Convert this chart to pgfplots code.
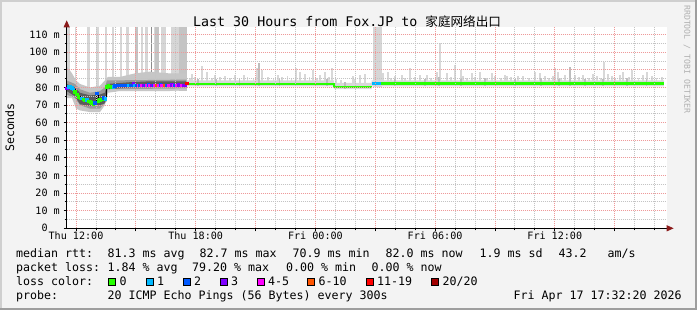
\documentclass[border=0pt]{standalone}
\usepackage{pgfplots}
\pgfplotsset{compat=1.18}
\usepackage{pgfplotstable}
\usepackage{fontspec}
\setmainfont{DejaVu Sans Mono}
\setmonofont{DejaVu Sans Mono}
\newfontfamily\cjk{Noto Sans CJK SC}
\usetikzlibrary{arrows.meta}

\definecolor{bg}{HTML}{F3F3F3}
\definecolor{shadea}{HTML}{CFCFCF}
\definecolor{shadeb}{HTML}{9E9E9E}
\definecolor{mgrid}{HTML}{EE9A9A}
\definecolor{mingrid}{HTML}{C4C4C4}
\definecolor{arrowc}{HTML}{8B1A1A}
\definecolor{wmark}{HTML}{B0B0B0}
\definecolor{l0}{HTML}{26FF00}
\definecolor{l1}{HTML}{00B8FF}
\definecolor{l2}{HTML}{0059FF}
\definecolor{l3}{HTML}{7E00FF}
\definecolor{l4}{HTML}{FF00FF}
\definecolor{l6}{HTML}{FF5500}
\definecolor{l11}{HTML}{FF0000}
\definecolor{l20}{HTML}{A10000}
\definecolor{smokeT}{HTML}{D6D6D6}
\definecolor{smokeT2}{HTML}{C4C4C4}
\definecolor{smokeO}{HTML}{C6C6C6}
\definecolor{smokeM}{HTML}{9A9A9A}
\definecolor{smokeD}{HTML}{5C5C5C}
\definecolor{smokeB}{HTML}{D8D8D8}
\definecolor{smokeS}{HTML}{BDBDBD}

% early median: hours from Thu 12:00, rtt in ms, loss class
\pgfplotstableread{
x y c
-0.466 79.5 c3
-0.386 80.3 c1
-0.301 80.5 c1
-0.216 80.0 c1
-0.135 79.0 c1
-0.050 77.5 c0
0.035 76.1 c0
0.115 74.8 c0
0.201 73.9 c0
0.286 73.9 c1
0.366 73.3 c0
0.451 73.0 c0
0.536 72.9 c1
0.617 72.2 c0
0.702 71.9 c0
0.787 71.4 c0
0.867 70.9 c0
0.952 71.2 c2
1.038 76.7 c2
1.118 72.5 c0
1.203 72.9 c0
1.288 73.3 c0
1.368 74.2 c2
1.454 73.8 c1
1.539 80.5 c0
1.619 81.0 c0
1.704 80.8 c0
1.789 80.5 c0
1.870 80.6 c1
1.955 81.0 c2
2.040 81.3 c2
2.120 81.3 c2
2.206 81.3 c2
2.291 81.3 c2
2.371 81.4 c2
2.456 81.4 c2
2.541 81.3 c2
2.622 81.3 c1
2.707 81.4 c2
2.792 81.3 c2
2.872 82.4 c3
2.957 81.4 c1
3.043 81.2 c2
3.123 81.4 c4
3.208 81.2 c2
3.293 81.2 c4
3.373 81.4 c3
3.459 81.2 c2
3.544 81.2 c4
3.624 81.6 c2
3.709 81.2 c4
3.794 81.4 c3
3.875 81.2 c2
3.960 81.4 c4
4.045 81.2 c6
4.125 81.4 c4
4.211 81.6 c2
4.296 81.2 c4
4.376 81.4 c4
4.461 81.4 c6
4.546 81.2 c2
4.627 81.4 c4
4.712 81.3 c4
4.797 81.6 c3
4.877 81.4 c4
4.962 81.2 c2
5.048 81.4 c4
5.128 81.6 c3
5.213 81.3 c3
5.298 81.2 c4
5.378 81.3 c3
5.464 81.3 c3
5.549 82.4 c11
}\medianearly

% tall smoke bars: x lo hi
\pgfplotstableread{
x lo hi
-0.426 76 120
-0.341 76 120
-0.025 74 120
0.591 68 120
0.652 68 120
1.033 68 120
1.113 68 120
1.504 72 120
1.870 78 120
2.241 78 120
2.551 78 120
2.622 78 120
3.293 78 120
3.524 78 120
3.574 78 120
3.935 78 120
4.311 78 120
4.391 78 120
4.476 78 120
4.812 78 120
4.897 78 120
4.972 78 120
5.053 78 120
5.133 78 120
14.937 80 120
15.020 80 120
15.100 80 120
15.190 80 120
15.270 80 120
}\talltable

\pgfplotstableread{
x lo hi
2.982 78 120
3.058 78 120
4.015 78 120
4.100 78 120
5.213 78 120
5.293 78 120
5.373 78 120
5.454 78 120
5.514 78 120
}\talltabletwo

% later smoke spikes: x lo hi
\pgfplotstableread{
x lo hi
5.700 81 85.5
5.815 81 87.5
5.965 81 86.0
6.316 81 92.0
6.566 81 89.0
6.800 81 85.5
6.967 81 87.0
7.200 81 86.0
7.469 81 86.5
7.700 81 85.5
7.970 81 87.0
8.421 81 87.0
8.600 81 86.0
8.900 81 85.5
9.073 81 91.0
9.323 81 90.0
9.624 81 86.0
9.900 81 85.5
10.125 81 87.0
10.326 81 86.0
10.600 81 86.5
10.800 81 85.5
11.028 81 91.0
11.228 81 89.0
11.479 81 87.5
11.700 81 86.0
11.880 81 90.0
12.100 81 85.5
12.231 81 87.0
12.481 81 89.0
12.700 81 86.0
12.832 81 91.0
13.033 79 85.0
13.300 79 84.5
13.885 79 86.5
14.000 79 85.0
14.236 79 87.0
14.486 79 87.5
15.388 81 88.0
15.639 81 89.0
15.800 81 85.5
15.990 81 86.5
16.341 81 87.0
16.500 81 85.5
16.742 81 91.0
17.000 81 86.0
17.243 81 87.0
17.594 81 87.0
17.800 81 85.5
18.095 81 89.0
18.246 81 105.0
18.596 81 88.0
18.800 81 86.0
18.997 81 93.0
19.298 81 90.0
19.398 81 86.5
19.600 81 85.5
19.850 81 88.0
20.000 81 86.0
20.251 81 89.0
20.600 81 85.5
20.852 81 88.0
21.003 81 86.5
21.300 81 85.5
21.504 81 87.0
21.604 81 86.5
21.800 81 86.0
22.155 81 86.5
22.406 81 86.5
22.700 81 85.5
23.008 81 89.0
23.258 81 88.0
23.509 81 86.5
23.700 81 85.5
23.910 81 86.5
24.010 81 91.3
24.160 81 89.0
24.300 81 85.5
24.511 81 87.0
25.013 81 87.0
25.200 81 86.0
25.414 81 87.0
25.700 81 85.5
25.915 81 87.5
26.115 81 86.5
26.300 81 85.5
26.466 81 94.3
26.667 81 87.5
26.867 81 86.5
27.000 81 85.5
27.268 81 87.0
27.419 81 89.0
27.700 81 86.0
27.870 81 90.0
28.200 81 85.5
28.421 81 87.0
28.622 81 89.0
28.872 81 86.5
29.100 81 85.5
29.373 81 86.0
}\spikes

\pgfplotstableread{
x lo hi
6.10 81 85.0
7.00 81 84.6
8.20 81 85.5
9.173 81 93.8
10.20 81 84.8
11.00 81 85.6
12.60 81 84.7
13.50 79 83.2
16.00 81 85.0
17.50 81 84.6
18.20 81 85.8
19.30 81 84.9
20.50 81 85.2
22.00 81 84.7
23.30 81 85.4
24.20 81 84.8
24.762 81 91.8
25.50 81 85.1
26.40 81 84.9
27.60 81 85.3
28.60 81 84.7
}\spikesdark

\pgfplotsset{smokebars/.style={draw=none, mark=none, forget plot,
  error bars/.cd, y dir=plus, y explicit, error mark=none,
  error bar style={line width=1.8pt, draw=#1, solid}}}

\begin{document}
\begin{tikzpicture}[x=1pt,y=1pt]
\fill[bg] (0,0) rectangle (697,310);
\fill[shadea] (0,308) rectangle (697,310);
\fill[shadea] (0,0) rectangle (2,310);
\fill[shadeb] (0,0) rectangle (697,2);
\fill[shadeb] (695,0) rectangle (697,310);

\begin{axis}[
  at={(66.7pt,81.7pt)}, anchor=south west,
  width=600pt, height=201pt, scale only axis,
  xmin=-0.466, xmax=29.61, ymin=0, ymax=114.2,
  axis background/.style={fill=white},
  axis on top,
  axis x line*=bottom, axis y line*=left,
  axis line style={line width=0.9pt, black},
  x axis line style={-{Triangle[length=7pt,width=6pt,color=arrowc]}, shorten >=-7pt},
  y axis line style={-{Triangle[length=7pt,width=6pt,color=arrowc]}, shorten >=-7pt},
  xtick={0,3,...,27},
  xticklabels={Thu 12:00,,Thu 18:00,,Fri 00:00,,Fri 06:00,,Fri 12:00,},
  minor xtick={1,2,4,5,7,8,10,11,13,14,16,17,19,20,22,23,25,26,28,29},
  ytick={0,10,...,110},
  yticklabels={{0\hphantom{mm}},{10 m},{20 m},{30 m},{40 m},{50 m},{60 m},{70 m},{80 m},{90 m},{100 m},{110 m}},
  minor ytick={5,15,...,105},
  grid=both,
  major grid style={mgrid, dash pattern=on 1pt off 1pt, line width=0.8pt},
  minor grid style={mingrid, dash pattern=on 1pt off 1pt, line width=0.8pt},
  tick align=outside,
  major tick length=3pt, minor tick length=2pt,
  tick style={black, line width=0.8pt},
  ticklabel style={font=\fontsize{10.1}{12}\selectfont, inner sep=0pt},
  yticklabel style={anchor=east, xshift=-3.7pt},
  xticklabel style={anchor=base, yshift=-8.7pt},
  clip=true,
]
% tall smoke bars
\addplot[smokebars=smokeT] table[x=x, y=lo, y error plus expr=\thisrow{hi}-\thisrow{lo}] {\talltable};
\addplot[smokebars=smokeT2] table[x=x, y=lo, y error plus expr=\thisrow{hi}-\thisrow{lo}] {\talltabletwo};
\addplot[black!45, line width=1pt, forget plot] coordinates {(3.794,78) (3.794,120)};
% early smoke bands
\addplot[fill=smokeO, draw=none, forget plot] coordinates {
(-0.466,92) (-0.2,88) (0,84) (0.2,82) (0.7,80) (1.2,81) (1.45,84) (1.6,86) (2.2,86) (2.95,88) (3.7,89) (4.7,88) (5.55,88)
(5.55,79) (4.7,78) (3.7,78) (2.95,78) (2.2,78) (1.6,77) (1.45,70) (1.2,66) (0.7,66) (0.2,67) (0,68) (-0.2,74) (-0.466,74)} -- cycle;
\addplot[fill=smokeM, draw=none, forget plot] coordinates {
(-0.466,84) (-0.05,82) (0.2,79) (0.7,77) (1.2,78) (1.45,80) (1.55,84) (5.55,84.5)
(5.55,79.5) (1.6,79) (1.5,72) (1.2,68) (0.7,68) (0.2,70) (-0.05,74) (-0.466,76)} -- cycle;
\addplot[fill=smokeD, draw=none, forget plot] coordinates {
(-0.466,82) (-0.05,80) (0.2,77) (0.7,75.5) (1.2,76) (1.45,77) (1.55,82) (2.7,83) (3.7,83.5) (5.55,83.5)
(5.55,80.5) (3.7,80.3) (2.7,80) (1.55,79) (1.45,71) (1.2,70) (0.7,69.5) (0.2,70.5) (-0.05,75) (-0.466,78)} -- cycle;
% later base band
\addplot[fill=smokeB, draw=none, forget plot] coordinates {
(5.55,80.6) (12.93,80.6) (12.93,79.0) (14.82,79.0) (14.82,80.7) (29.47,80.7)
(29.47,84.0) (14.82,84.0) (14.82,82.6) (12.93,82.6) (12.93,84.0) (5.55,84.0)} -- cycle;
% later spikes
\addplot[smokebars=smokeB] table[x=x, y=lo, y error plus expr=\thisrow{hi}-\thisrow{lo}] {\spikes};
\addplot[smokebars=smokeS] table[x=x, y=lo, y error plus expr=\thisrow{hi}-\thisrow{lo}] {\spikesdark};
% early median
\addplot[black, line width=0.6pt, const plot, forget plot] table[x=x, y=y] {\medianearly};
\addplot[scatter, only marks, mark=square*, mark size=1.3pt, forget plot,
  scatter src=explicit symbolic,
  scatter/classes={c0={mark=square*,l0}, c1={mark=square*,l1}, c2={mark=square*,l2},
    c3={mark=square*,l3}, c4={mark=square*,l4}, c6={mark=square*,l6}, c11={mark=square*,l11}}]
  table[x=x, y=y, meta=c] {\medianearly};
% later median
\addplot[l0, line width=2.6pt, forget plot] coordinates {(5.59,82.0) (12.93,82.0) (12.93,80.3) (14.82,80.3)};
\addplot[l1, line width=2.6pt, forget plot] coordinates {(14.82,82.1) (15.29,82.1)};
\addplot[l0, line width=2.6pt, forget plot] coordinates {(15.29,82.1) (29.45,82.1)};
\end{axis}

% title
\node[anchor=base west, inner sep=0pt] at (193,283.3) {\fontsize{13.3}{16}\selectfont Last 30 Hours from Fox.JP to {\cjk\fontsize{12.6}{16}\selectfont 家庭网络出口}};
% watermark
\node[anchor=base west, inner sep=0pt, rotate=-90, text=wmark] at (684.3,305) {\fontsize{8.2}{10}\selectfont RRDTOOL / TOBI OETIKER};
% y label
\node[anchor=base, inner sep=0pt, rotate=90] at (14,182.5) {\fontsize{11.6}{14}\selectfont Seconds};

% legend
\begin{scope}[every node/.style={anchor=base west, inner sep=0pt, font=\fontsize{11.63}{14}\selectfont}]
\node at (16,52) {median rtt:};
\node at (107.3,52) {81.3 ms avg};
\node at (199.5,52) {82.7 ms max};
\node at (292.5,52) {70.9 ms min};
\node at (385.5,52) {82.0 ms now};
\node at (479.3,52) {1.9 ms sd};
\node at (558.3,52) {43.2};
\node at (607.3,52) {am/s};
\node at (16,38) {packet loss:};
\node at (107.3,38) {1.84 \% avg};
\node at (192,38) {79.20 \% max};
\node at (285.8,38) {0.00 \% min};
\node at (371.5,38) {0.00 \% now};
\node at (16,24) {loss color:};
\node at (119.5,24) {0};
\node at (157,24) {1};
\node at (194,24) {2};
\node at (231,24) {3};
\node at (268,24) {4-5};
\node at (318.5,24) {6-10};
\node at (377,24) {11-19};
\node at (442.5,24) {20/20};
\node at (16,10) {probe:};
\node at (107.3,10) {20 ICMP Echo Pings (56 Bytes) every 300s};
\node at (513.3,10) {Fri Apr 17 17:32:20 2026};
\end{scope}
\foreach \bx/\bc in {108.3/l0, 145.7/l1, 182.7/l2, 220/l3, 256.7/l4, 307.3/l6, 365.7/l11, 431/l20}{
  \filldraw[fill=\bc, draw=black, line width=0.9pt] (\bx+0.45,24.5) rectangle (\bx+7.5,31.5);
}
\end{tikzpicture}
\end{document}
